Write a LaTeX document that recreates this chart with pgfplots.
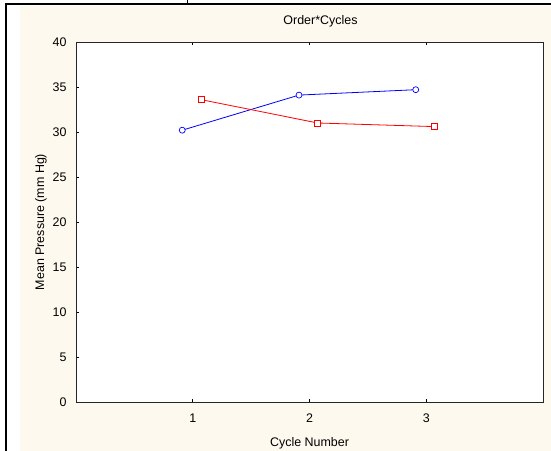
\documentclass[border=0pt]{standalone}
\usepackage{pgfplots}
\pgfplotsset{compat=1.18}
\usepackage{fontspec}
\setmainfont{Liberation Sans}
\definecolor{cream}{HTML}{FEF9EE}
\definecolor{mred}{RGB}{255,0,0}
\definecolor{mblue}{RGB}{0,0,255}
\begin{document}
\begin{tikzpicture}[x=1bp,y=1bp]
\useasboundingbox (-76,-49) rectangle (475,402);
\fill[white] (-76,-49) rectangle (475,402);
\fill[cream] (-56,-49) rectangle (475,396);
\draw[black, line width=2bp] (-70,-49) -- (-70,398) -- (475,398);
\draw[black, line width=1bp] (111,398) -- (111,402);
\begin{axis}[
  at={(0,0)}, anchor=south west,
  scale only axis, width=467bp, height=360bp,
  xmin=0, xmax=4, ymin=0, ymax=40,
  xtick={1,2,3}, ytick={0,5,...,40},
  xtick pos=both, ytick pos=left,
  tick align=inside,
  major tick length=3bp,
  axis background/.style={fill=white},
  axis line style={line width=0.8bp, black!85},
  every tick/.style={black, line width=0.6bp},
  tick label style={font=\fontsize{12.5}{14}\selectfont},
  label style={font=\fontsize{12.5}{14}\selectfont},
  xticklabel style={yshift=-8.5bp},
  yticklabel style={xshift=-6bp},
  title style={font=\fontsize{12.5}{14}\selectfont, at={(axis description cs:0.5,1)}, anchor=center, yshift=14.5bp, xshift=11bp},
  /pgf/number format/assume math mode=true,
  title={Order*Cycles},
  xlabel={Cycle Number},
  ylabel={Mean Pressure (mm Hg)},
  xlabel style={at={(axis description cs:0.5,0)}, anchor=center, yshift=-41bp},
  ylabel style={at={(axis description cs:0,0.5)}, anchor=center, yshift=35bp},
]
\addplot[mblue, line width=0.8bp, mark=none]
  coordinates {(0.91,30.2) (1.91,34.1) (2.91,34.7)};
\addplot[mred, line width=0.8bp, mark=none]
  coordinates {(1.07,33.6) (2.07,31.0) (3.07,30.6)};
\addplot[only marks, mark=*, mark size=3bp, mark options={draw=mblue, fill=white, line width=0.7bp}]
  coordinates {(0.91,30.2) (1.91,34.1) (2.91,34.7)};
\addplot[only marks, mark=square*, mark size=3bp, mark options={draw=mred, fill=white, line width=0.7bp}]
  coordinates {(1.07,33.6) (2.07,31.0) (3.07,30.6)};
\end{axis}
\end{tikzpicture}
\end{document}
